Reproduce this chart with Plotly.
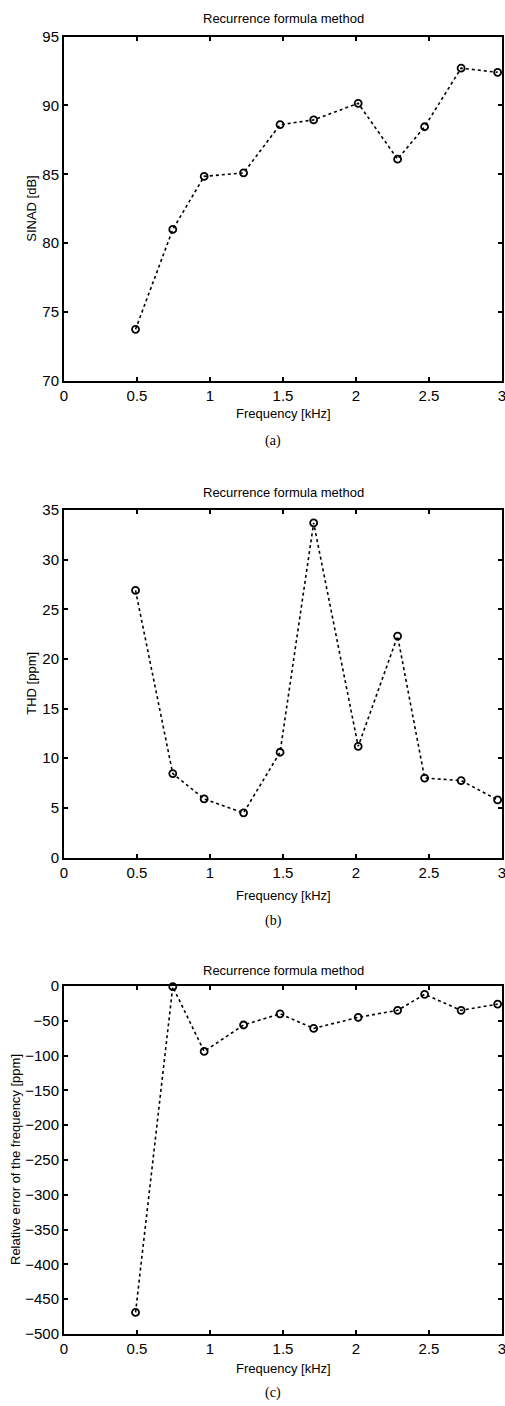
import plotly.graph_objects as go

W, H = 505, 1406

freq = [0.49, 0.745, 0.96, 1.23, 1.48, 1.71, 2.015, 2.285, 2.47, 2.72, 2.97]
sinad = [73.75, 81.0, 84.85, 85.1, 88.6, 88.95, 90.15, 86.1, 88.45, 92.7, 92.4]
thd = [26.9, 8.45, 5.9, 4.5, 10.6, 33.7, 11.2, 22.3, 8.0, 7.75, 5.8]
rel_err = [-469, -1, -94, -56, -40, -61, -45, -35, -12, -35, -26]

x_ticks = [0, 0.5, 1, 1.5, 2, 2.5, 3]
x_ticktext = ["0", "0.5", "1", "1.5", "2", "2.5", "3"]
title_text = "Recurrence formula method"
x_label = "Frequency [kHz]"
y_labels = ["SINAD [dB]", "THD [ppm]", "Relative error of the frequency [ppm]"]
sub_labels = ["(a)", "(b)", "(c)"]
y_ranges = [[70, 95], [0, 35], [-500, 0]]
y_dticks = [5, 5, 50]

def py(p):
    return 1 - p / H

def px(p):
    return p / W

# pixel layout of each panel: (top, bottom)
panels = [(36.5, 381), (510, 857.5), (986, 1334)]
x_left, x_right = 64, 502
xlabel_y = [414, 895, 1368]
sub_y = [441, 921, 1393]
title_y = [19, 492, 970]
ylabel_x = [32, 32, 15]

series = [sinad, thd, rel_err]
font_family = "Liberation Sans, Arial, sans-serif"

fig = go.Figure()
annotations = []
layout = dict(
    width=W, height=H, autosize=False,
    margin=dict(l=0, r=0, t=0, b=0),
    paper_bgcolor="white", plot_bgcolor="white",
    showlegend=False,
    font=dict(family=font_family, color="black", size=13),
)

for i in range(3):
    n = "" if i == 0 else str(i + 1)
    xa = "x" + n
    ya = "y" + n
    fig.add_trace(go.Scatter(
        x=freq, y=series[i], xaxis=xa, yaxis=ya,
        mode="lines+markers",
        line=dict(color="black", width=1.6, dash="dot"),
        marker=dict(symbol="circle-open", size=7, color="black", line=dict(width=1.8, color="black")),
        cliponaxis=False,
    ))
    top, bot = panels[i]
    axis_common = dict(
        showgrid=False, zeroline=False, showline=True, linecolor="black", linewidth=2,
        mirror="ticks", ticks="inside", ticklen=4, tickwidth=1.5, tickcolor="black",
        tickfont=dict(size=15, family=font_family, color="black"),
        automargin=False, ticklabeloverflow="allow",
    )
    layout["xaxis" + n] = dict(
        domain=[px(x_left), px(x_right)], range=[0, 3], anchor=ya,
        tickvals=x_ticks, ticktext=x_ticktext, **axis_common,
    )
    layout["yaxis" + n] = dict(
        domain=[py(bot), py(top)], range=y_ranges[i], anchor=xa,
        dtick=y_dticks[i], tick0=y_ranges[i][0], **axis_common,
    )
    cx = px((x_left + x_right) / 2)
    annotations.append(dict(text=title_text, x=cx, y=py(title_y[i]), xref="paper", yref="paper",
                            showarrow=False, xanchor="center", yanchor="middle",
                            font=dict(size=13, family=font_family)))
    annotations.append(dict(text=x_label, x=cx, y=py(xlabel_y[i]), xref="paper", yref="paper",
                            showarrow=False, xanchor="center", yanchor="middle",
                            font=dict(size=13, family=font_family)))
    annotations.append(dict(text=sub_labels[i], x=px(273), y=py(sub_y[i]), xref="paper", yref="paper",
                            showarrow=False, xanchor="center", yanchor="middle",
                            font=dict(size=14, family="Liberation Serif, Times New Roman, serif")))
    annotations.append(dict(text=y_labels[i], x=px(ylabel_x[i]), y=py((top + bot) / 2), xref="paper", yref="paper",
                            showarrow=False, xanchor="center", yanchor="middle", textangle=-90,
                            font=dict(size=13, family=font_family)))

layout["annotations"] = annotations
fig.update_layout(**layout)
fig.write_html("out.html")
